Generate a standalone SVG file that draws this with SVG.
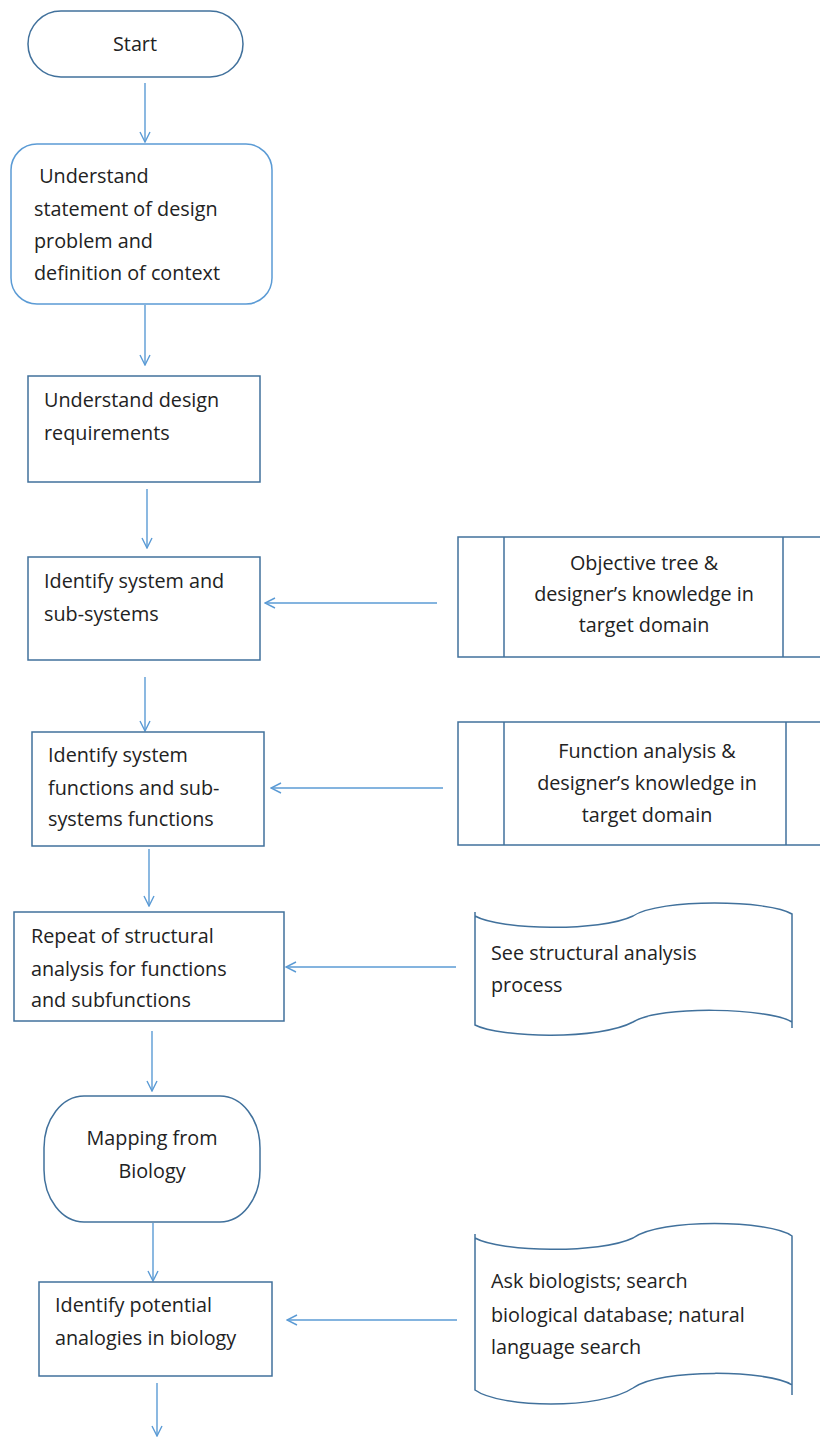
<svg xmlns="http://www.w3.org/2000/svg" width="820" height="1437" viewBox="0 0 820 1437">
<defs>
<marker id="arr" viewBox="0 0 12 12" refX="11" refY="6" markerWidth="12" markerHeight="12" markerUnits="userSpaceOnUse" orient="auto">
<polyline points="1,1 11,6 1,11" fill="none" stroke="#5B9BD5" stroke-width="1.4"/>
</marker>
<style>
.s{fill:#fff;stroke:#41719C;stroke-width:1.5}
.sl{fill:#fff;stroke:#5B9BD5;stroke-width:1.5}
.t{font-family:"Open Sans","Noto Sans",sans-serif;font-size:19.8px;fill:#222}
.c{text-anchor:middle}
.e{fill:none;stroke:#5B9BD5;stroke-width:1.4;marker-end:url(#arr)}
</style>
</defs>
<rect width="820" height="1437" fill="#fff"/>
<g id="connectors">
<line class="e" x1="145" y1="83" x2="145" y2="142"/>
<line class="e" x1="145" y1="305" x2="145" y2="365"/>
<line class="e" x1="147" y1="489" x2="147" y2="548"/>
<line class="e" x1="437" y1="603" x2="265" y2="603"/>
<line class="e" x1="145" y1="677" x2="145" y2="731"/>
<line class="e" x1="443" y1="788" x2="271" y2="788"/>
<line class="e" x1="149" y1="849" x2="149" y2="906"/>
<line class="e" x1="456" y1="967" x2="286" y2="967"/>
<line class="e" x1="152" y1="1031" x2="152" y2="1091"/>
<line class="e" x1="153" y1="1223" x2="153" y2="1281"/>
<line class="e" x1="457" y1="1320" x2="287" y2="1320"/>
<line class="e" x1="157" y1="1383" x2="157" y2="1436"/>
</g>
<g id="start">
<rect class="s" x="28" y="11" width="215" height="66" rx="33"/>
<text class="t c" x="135" y="51">Start</text>
</g>
<g id="understand-statement">
<rect class="sl" x="11" y="144" width="261" height="160" rx="26"/>
<text class="t" x="34" y="183" xml:space="preserve"> Understand</text>
<text class="t" x="34" y="216">statement of design</text>
<text class="t" x="34" y="248">problem and</text>
<text class="t" x="34" y="280">definition of context</text>
</g>
<g id="understand-requirements">
<rect class="s" x="28" y="376" width="232" height="106"/>
<text class="t" x="44" y="407">Understand design</text>
<text class="t" x="44" y="440">requirements</text>
</g>
<g id="identify-system">
<rect class="s" x="28" y="557" width="232" height="103"/>
<text class="t" x="44" y="588">Identify system and</text>
<text class="t" x="44" y="621">sub-systems</text>
</g>
<g id="objective-tree">
<rect class="s" x="458" y="537" width="370" height="120"/>
<line class="s" x1="504" y1="537" x2="504" y2="657"/>
<line class="s" x1="783" y1="537" x2="783" y2="657"/>
<text class="t c" x="644" y="570">Objective tree &amp;</text>
<text class="t c" x="644" y="601">designer’s knowledge in</text>
<text class="t c" x="644" y="632">target domain</text>
</g>
<g id="identify-functions">
<rect class="s" x="32" y="732" width="232" height="114"/>
<text class="t" x="48" y="762">Identify system</text>
<text class="t" x="48" y="795">functions and sub-</text>
<text class="t" x="48" y="826">systems functions</text>
</g>
<g id="function-analysis">
<rect class="s" x="458" y="722" width="370" height="123"/>
<line class="s" x1="504" y1="722" x2="504" y2="845"/>
<line class="s" x1="786" y1="722" x2="786" y2="845"/>
<text class="t c" x="647" y="758">Function analysis &amp;</text>
<text class="t c" x="647" y="790">designer’s knowledge in</text>
<text class="t c" x="647" y="822">target domain</text>
</g>
<g id="repeat-structural">
<rect class="s" x="14" y="912" width="270" height="109"/>
<text class="t" x="31" y="943">Repeat of structural</text>
<text class="t" x="31" y="976">analysis for functions</text>
<text class="t" x="31" y="1007">and subfunctions</text>
</g>
<g id="see-structural">
<path class="s" d="M475,912 L475,1025 C500,1038 600,1040 633,1022 C660,1005 770,1008 792,1022 L792,1028 M475,916 C500,930 600,932 633,916 C660,898 770,900 792,914 L792,1028"/>
<text class="t" x="491" y="960">See structural analysis</text>
<text class="t" x="491" y="992">process</text>
</g>
<g id="mapping-biology">
<rect class="s" x="44" y="1096" width="216" height="126" rx="40" ry="52"/>
<text class="t c" x="152" y="1145">Mapping from</text>
<text class="t c" x="152" y="1178">Biology</text>
</g>
<g id="identify-analogies">
<rect class="s" x="39" y="1282" width="233" height="94"/>
<text class="t" x="55" y="1312">Identify potential</text>
<text class="t" x="55" y="1345">analogies in biology</text>
</g>
<g id="ask-biologists">
<path class="s" d="M475,1234 L475,1390 C500,1408 600,1410 633,1388 C660,1368 770,1370 792,1385 L792,1395 M475,1238 C500,1252 600,1254 633,1238 C660,1218 770,1220 792,1236 L792,1395"/>
<text class="t" x="491" y="1288">Ask biologists; search</text>
<text class="t" x="491" y="1322">biological database; natural</text>
<text class="t" x="491" y="1354">language search</text>
</g>
</svg>
